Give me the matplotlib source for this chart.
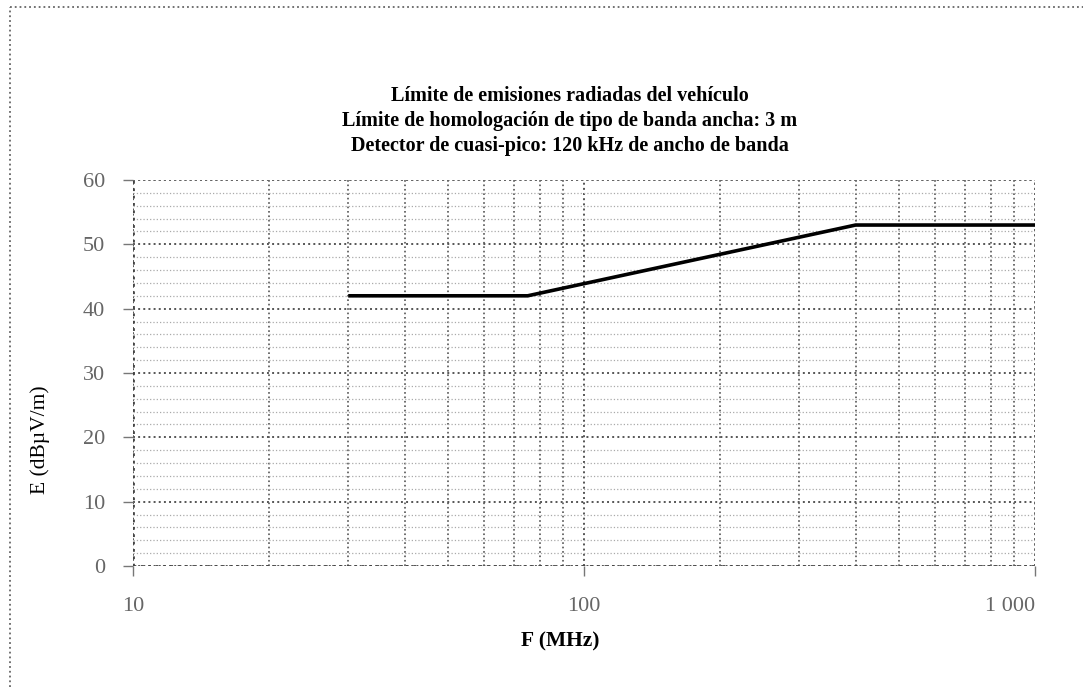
import matplotlib
matplotlib.use('Agg')
import matplotlib.pyplot as plt
from matplotlib.lines import Line2D
from matplotlib.ticker import FixedLocator, NullFormatter

# limit curve (MHz, dBuV/m)
freq = [30, 75, 400, 1000]
level = [42, 42, 53, 53]

title_lines = ['Límite de emisiones radiadas del vehículo',
               'Límite de homologación de tipo de banda ancha: 3 m',
               'Detector de cuasi-pico: 120 kHz de ancho de banda']
xticks = [10, 100, 1000]
xticklabels = ['10', '100', '1 000']
yticks = [0, 10, 20, 30, 40, 50, 60]

matplotlib.rcParams.update({
    'font.family': ['Liberation Serif', 'DejaVu Serif'],
    'font.size': 12,
})

fig = plt.figure(figsize=(10.83, 6.87), dpi=100)
ax = fig.add_axes([0.1228, 0.1761, 0.833, 0.5619])

ax.plot(freq, level, color='black', lw=2.6, solid_capstyle='butt', zorder=5)

ax.set_xscale('log')
ax.set_xlim(10, 1000)
ax.set_ylim(0, 60)

ax.xaxis.set_major_locator(FixedLocator(xticks))
ax.set_xticklabels(xticklabels)
ax.get_xticklabels()[-1].set_ha('right')
minor_x = [m * 10 ** d for d in (1, 2) for m in range(2, 10)]
ax.xaxis.set_minor_locator(FixedLocator(minor_x))
ax.xaxis.set_minor_formatter(NullFormatter())
ax.set_yticks(yticks)
ax.yaxis.set_minor_locator(FixedLocator([v for v in range(0, 61, 2) if v % 10]))

ax.grid(True, which='major', axis='both', color='#555555', ls=':', lw=1.4)
ax.grid(True, which='minor', axis='x', color='#555555', ls=':', lw=1.2)
ax.grid(True, which='minor', axis='y', color='#aaaaaa', ls=':', lw=0.9)

for s in ax.spines.values():
    s.set_visible(False)
ax.axvline(10, color='#444444', ls=':', lw=2.0)
ax.axvline(1000, color='#666666', ls=':', lw=1.4)
ax.axhline(0, color='#444444', ls=':', lw=2.0)
ax.axhline(60, color='#666666', ls=':', lw=1.4)

ax.tick_params(which='major', length=7, width=1, color='#777777',
               labelsize=16, labelcolor='#666666')
ax.tick_params(which='minor', length=0)
ax.tick_params(axis='y', pad=13)
ax.tick_params(axis='x', pad=15)

fig.text(40 / 1083, 1 - 440 / 687, 'E (dBµV/m)', rotation=90, ha='center', va='center',
         fontsize=15.5)
fig.text(560 / 1083, 1 - 641 / 687, 'F (MHz)', ha='center', va='center',
         fontsize=15.5, weight='bold')

for i, t in enumerate(title_lines):
    fig.text(570 / 1083, 1 - (96 + i * 25) / 687, t, ha='center', va='center',
             fontsize=14.5, weight='bold')

# page frame (left and top edges only)
fig.add_artist(Line2D([10 / 1083, 10 / 1083], [0, 1 - 7 / 687], transform=fig.transFigure,
                      ls=':', lw=1.3, color='#666666'))
fig.add_artist(Line2D([10 / 1083, 1], [1 - 7 / 687, 1 - 7 / 687], transform=fig.transFigure,
                      ls=':', lw=1.3, color='#666666'))

fig.savefig('out.png', dpi=100)
